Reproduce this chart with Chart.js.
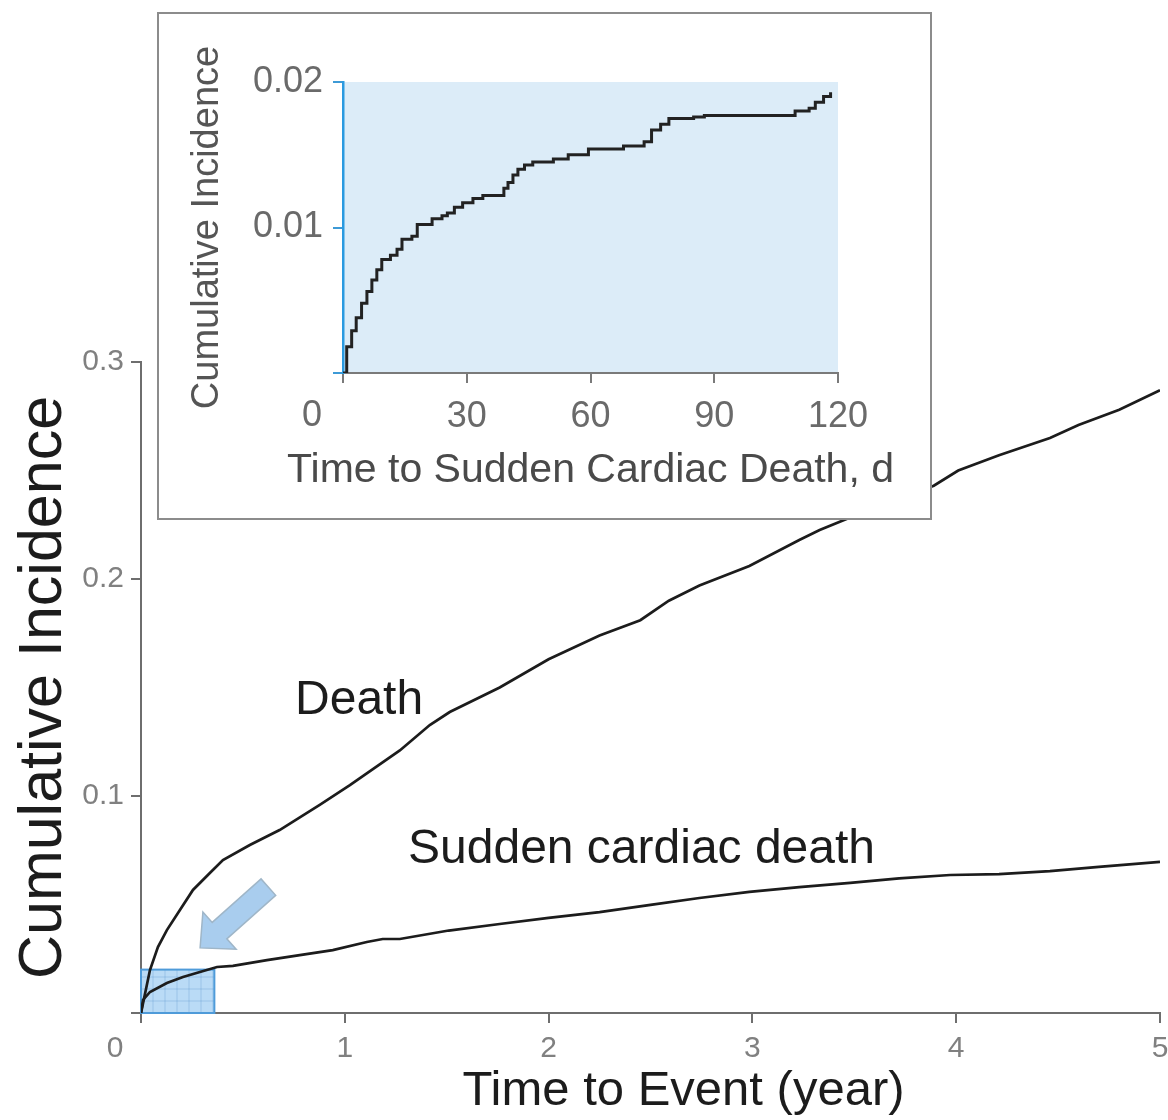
<!DOCTYPE html>
<html>
<head>
<meta charset="utf-8">
<title>Cumulative incidence of death and sudden cardiac death</title>
<script src="https://cdn.jsdelivr.net/npm/chart.js@4.4.1/dist/chart.umd.min.js"></script>
<style>
  body { margin: 0; background: #fff; }
  #wrap { position: relative; width: 1168px; height: 1120px; }
  #main { position: absolute; left: 0; top: 0; }
  #insetBox { position: absolute; left: 157px; top: 12px; width: 771px; height: 504px;
              border: 2px solid #8c8c8c; background: #fff; }
  #inset { display: block; }
</style>
</head>
<body>
<div id="wrap">
  <canvas id="main" width="1168" height="1120"></canvas>
  <div id="insetBox"><canvas id="inset" width="771" height="504"></canvas></div>
</div>
<script>
const FONT = '"Liberation Sans", Arial, Helvetica, sans-serif';
Chart.defaults.font.family = FONT;

// main panel, time in years
const deathYears = [0, 0.044, 0.083, 0.127, 0.191, 0.255, 0.338, 0.402, 0.534, 0.68, 0.877, 1.025, 1.27, 1.417, 1.515, 1.76, 2.0, 2.25, 2.45, 2.59, 2.74, 2.985, 3.23, 3.33, 3.6, 3.89, 4.01, 4.21, 4.46, 4.6, 4.8, 5.0];
const deathCI = [0, 0.0198, 0.0304, 0.0382, 0.0475, 0.0567, 0.0645, 0.0705, 0.0774, 0.0843, 0.0959, 0.105, 0.121, 0.1327, 0.1387, 0.150, 0.163, 0.174, 0.181, 0.190, 0.197, 0.206, 0.218, 0.2226, 0.233, 0.243, 0.250, 0.257, 0.265, 0.271, 0.278, 0.287];

const scdYears = [0, 0.01, 0.044, 0.127, 0.206, 0.289, 0.373, 0.451, 0.618, 0.779, 0.941, 1.108, 1.186, 1.27, 1.51, 1.76, 2.0, 2.25, 2.5, 2.74, 2.985, 3.23, 3.48, 3.72, 3.97, 4.21, 4.46, 4.70, 5.0];
const scdCI = [0, 0.006, 0.0097, 0.0138, 0.0166, 0.0189, 0.0212, 0.0217, 0.0244, 0.0267, 0.029, 0.0327, 0.0341, 0.0341, 0.038, 0.041, 0.0438, 0.0465, 0.0498, 0.053, 0.0558, 0.058, 0.060, 0.062, 0.0636, 0.064, 0.0654, 0.0673, 0.0696];

// inset, time in days
const insetDays = [0, 0.9, 2.1, 3.2, 4.5, 5.8, 7.0, 8.2, 9.4, 11.5, 13.1, 14.3, 16.7, 18.0, 21.6, 24.0, 25.3, 27.0, 29.0, 31.5, 33.9, 37.5, 39.0, 40.0, 41.2, 42.4, 44.0, 46.0, 51.0, 54.6, 59.5, 68.0, 73.0, 74.8, 77.0, 79.0, 85.0, 87.6, 108.4, 109.6, 113.0, 114.5, 116.5, 118.2];
const insetCI = [0, 0.0018, 0.0029, 0.0038, 0.0048, 0.0056, 0.0064, 0.0071, 0.0078, 0.0081, 0.0085, 0.0092, 0.0094, 0.0102, 0.0106, 0.0108, 0.0110, 0.0114, 0.0117, 0.0120, 0.0122, 0.0122, 0.0127, 0.0131, 0.0136, 0.0140, 0.0143, 0.0145, 0.0147, 0.0150, 0.0154, 0.0156, 0.0159, 0.0167, 0.0171, 0.0175, 0.0176, 0.0177, 0.0177, 0.0180, 0.0182, 0.0186, 0.0190, 0.0193];

const zoomBox = { x: 0.36, y: 0.02 };   // the first 120 d blown up in the inset

const toPoints = (xs, ys) => xs.map((v, i) => ({ x: v, y: ys[i] }));

function drawArrow(ctx, tx, ty, hx, hy, shaft, headW, headL) {
  const ang = Math.atan2(hy - ty, hx - tx);
  const len = Math.hypot(hx - tx, hy - ty);
  ctx.save();
  ctx.translate(tx, ty);
  ctx.rotate(ang);
  ctx.beginPath();
  ctx.moveTo(0, -shaft / 2);
  ctx.lineTo(len - headL, -shaft / 2);
  ctx.lineTo(len - headL, -headW / 2);
  ctx.lineTo(len, 0);
  ctx.lineTo(len - headL, headW / 2);
  ctx.lineTo(len - headL, shaft / 2);
  ctx.lineTo(0, shaft / 2);
  ctx.closePath();
  ctx.fillStyle = '#a9cdee';
  ctx.fill();
  ctx.strokeStyle = '#9fb6c8';
  ctx.lineWidth = 1.5;
  ctx.stroke();
  ctx.restore();
}

const mainDecor = {
  id: 'mainDecor',
  beforeDatasetsDraw(chart) {
    const { ctx, scales: { x, y } } = chart;
    const x0 = x.getPixelForValue(0), x1 = x.getPixelForValue(zoomBox.x);
    const y0 = y.getPixelForValue(0), y1 = y.getPixelForValue(zoomBox.y);
    ctx.save();
    ctx.fillStyle = 'rgba(140, 195, 240, 0.6)';
    ctx.fillRect(x0, y1, x1 - x0, y0 - y1);
    ctx.strokeStyle = 'rgba(80, 140, 200, 0.3)';
    ctx.lineWidth = 1;
    ctx.beginPath();
    for (let gx = x0 + 12; gx < x1; gx += 12) { ctx.moveTo(gx, y1); ctx.lineTo(gx, y0); }
    for (let gy = y0 - 12; gy > y1; gy -= 12) { ctx.moveTo(x0, gy); ctx.lineTo(x1, gy); }
    ctx.stroke();
    ctx.strokeStyle = '#4f9bd9';
    ctx.lineWidth = 2;
    ctx.strokeRect(x0, y1, x1 - x0, y0 - y1);
    ctx.restore();
  },
  afterDatasetsDraw(chart) {
    const { ctx, chartArea, scales: { x, y } } = chart;
    ctx.save();
    drawArrow(ctx, x.getPixelForValue(0.625), y.getPixelForValue(0.058),
              x.getPixelForValue(0.29), y.getPixelForValue(0.030), 22, 50, 26);
    ctx.fillStyle = '#1c1c1c';
    ctx.font = '48px ' + FONT;
    ctx.textAlign = 'center';
    ctx.textBaseline = 'middle';
    ctx.fillText('Death', x.getPixelForValue(1.07), y.getPixelForValue(0.1438));
    ctx.fillText('Sudden cardiac death', x.getPixelForValue(2.456), y.getPixelForValue(0.0751));
    // x title sits a little right of the plot centre in the original
    ctx.font = '49px ' + FONT;
    ctx.fillText('Time to Event (year)', (chartArea.left + chartArea.right) / 2 + 33, chart.height - 29);
    // shared origin label
    ctx.fillStyle = '#808080';
    ctx.font = '30px ' + FONT;
    ctx.fillText('0', x.getPixelForValue(0) - 26, y.getPixelForValue(0) + 10 + 8 + 18);
    ctx.restore();
  }
};

new Chart(document.getElementById('main'), {
  type: 'line',
  data: {
    datasets: [
      { label: 'Death', data: toPoints(deathYears, deathCI), borderColor: '#1c1c1c', borderWidth: 2.7, pointRadius: 0 },
      { label: 'Sudden cardiac death', data: toPoints(scdYears, scdCI), borderColor: '#1c1c1c', borderWidth: 2.7, pointRadius: 0 },
    ],
  },
  options: {
    responsive: false,
    animation: false,
    devicePixelRatio: 1,
    layout: { padding: { top: 362, right: 0, left: 0, bottom: 0 } },
    plugins: { legend: { display: false }, tooltip: { enabled: false } },
    scales: {
      x: {
        type: 'linear',
        min: 0,
        max: 5,
        afterFit: (s) => { s.height = 107; s.paddingRight = 8; },
        ticks: { stepSize: 1, padding: 8, color: '#808080', font: { size: 30 },
                 callback: (v) => (v === 0 ? '' : String(v)) },
        grid: { drawOnChartArea: false, tickLength: 10, color: '#6e6e6e', lineWidth: 2 },
        border: { color: '#6e6e6e', width: 2 },
      },
      y: {
        min: 0,
        max: 0.3,
        afterFit: (s) => { s.width = 141; },
        ticks: { stepSize: 0.1, padding: 7, color: '#808080', font: { size: 30 },
                 callback: (v) => (v === 0 ? '' : v.toFixed(1)) },
        grid: { drawOnChartArea: false, tickLength: 10, color: '#6e6e6e', lineWidth: 2 },
        border: { color: '#6e6e6e', width: 2 },
        title: { display: true, text: 'Cumulative Incidence', color: '#1c1c1c',
                 font: { size: 61 }, padding: { top: 8, bottom: 0 } },
      },
    },
  },
  plugins: [mainDecor],
});

const insetDecor = {
  id: 'insetDecor',
  beforeDraw(chart) {
    const { ctx, chartArea: a } = chart;
    ctx.save();
    ctx.fillStyle = '#dcecf8';
    ctx.fillRect(a.left, a.top, a.right - a.left, a.bottom - a.top);
    ctx.restore();
  },
  afterDraw(chart) {
    const { ctx, chartArea: a, scales: { x, y } } = chart;
    ctx.save();
    ctx.fillStyle = '#6a6a6a';
    ctx.font = '36px ' + FONT;
    ctx.textAlign = 'center';
    ctx.textBaseline = 'middle';
    ctx.fillText('0', x.getPixelForValue(0) - 31, y.getPixelForValue(0) + 10 + 12 + 21);
    // title is wider than the plot, so it is drawn here without a max width
    ctx.fillStyle = '#4a4a4a';
    ctx.font = '41px ' + FONT;
    ctx.fillText('Time to Sudden Cardiac Death, d', (a.left + a.right) / 2, chart.height - 47);
    ctx.restore();
  }
};

new Chart(document.getElementById('inset'), {
  type: 'line',
  data: {
    datasets: [
      { label: 'Sudden cardiac death', data: toPoints(insetDays, insetCI), stepped: true,
        borderColor: '#222', borderWidth: 3, pointRadius: 0 },
    ],
  },
  options: {
    responsive: false,
    animation: false,
    devicePixelRatio: 1,
    layout: { padding: { top: 68, right: 92, left: 0, bottom: 0 } },
    plugins: { legend: { display: false }, tooltip: { enabled: false } },
    scales: {
      x: {
        type: 'linear',
        min: 0,
        max: 120,
        afterFit: (s) => { s.height = 145; },
        ticks: { stepSize: 30, padding: 12, color: '#6a6a6a', font: { size: 36 },
                 callback: (v) => (v === 0 ? '' : String(v)) },
        grid: { drawOnChartArea: false, tickLength: 10, color: '#7a7a7a', lineWidth: 2 },
        border: { color: '#7a7a7a', width: 2 },
      },
      y: {
        min: 0,
        max: 0.02,
        afterFit: (s) => { s.width = 184; },
        ticks: { stepSize: 0.01, padding: 10, color: '#6a6a6a', font: { size: 36 },
                 callback: (v) => (v === 0 ? '' : v.toFixed(2)) },
        grid: { drawOnChartArea: false, tickLength: 10, color: '#3d9ad6', lineWidth: 2 },
        border: { color: '#2a9ae0', width: 2.5 },
        title: { display: true, text: 'Cumulative Incidence', color: '#555',
                 font: { size: 38 }, padding: { top: 26, bottom: 0 } },
      },
    },
  },
  plugins: [insetDecor],
});
</script>
</body>
</html>
